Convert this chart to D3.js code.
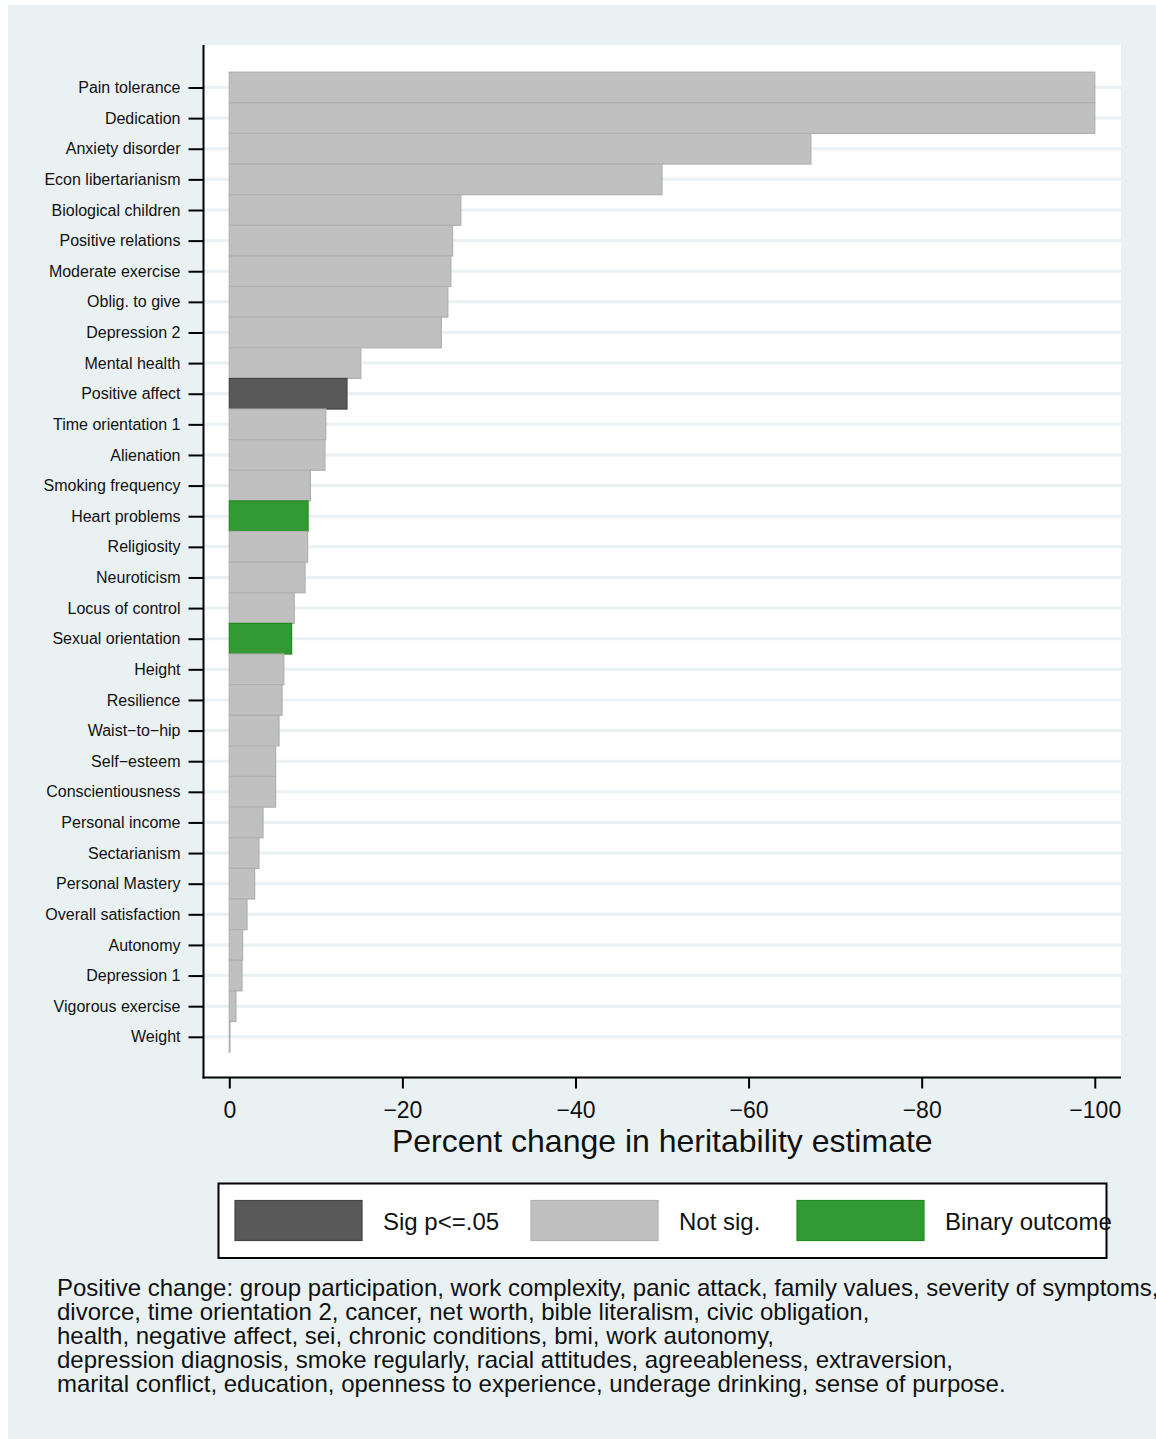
<!DOCTYPE html>
<html>
<head>
<meta charset="utf-8">
<script src="https://cdn.jsdelivr.net/npm/d3@7"></script>
<style>
  html, body { margin: 0; padding: 0; background: #ffffff; }
  svg { display: block; font-family: "Liberation Sans", Arial, Helvetica, sans-serif; }
</style>
</head>
<body>
<svg id="chart" width="1156" height="1439"></svg>
<script>
// Outcomes, ordered from largest to smallest drop in heritability
const categories = [
  "Pain tolerance", "Dedication", "Anxiety disorder", "Econ libertarianism",
  "Biological children", "Positive relations", "Moderate exercise", "Oblig. to give",
  "Depression 2", "Mental health", "Positive affect", "Time orientation 1",
  "Alienation", "Smoking frequency", "Heart problems", "Religiosity",
  "Neuroticism", "Locus of control", "Sexual orientation", "Height",
  "Resilience", "Waist\u2212to\u2212hip", "Self\u2212esteem", "Conscientiousness",
  "Personal income", "Sectarianism", "Personal Mastery", "Overall satisfaction",
  "Autonomy", "Depression 1", "Vigorous exercise", "Weight"
];

// Percent change in the heritability estimate for each outcome
const pctChange = [
  -100, -100, -67.2, -50.0,
  -26.75, -25.8, -25.6, -25.25,
  -24.5, -15.2, -13.6, -11.15,
  -11.05, -9.37, -9.1, -9.05,
  -8.75, -7.5, -7.2, -6.3,
  -6.1, -5.75, -5.35, -5.35,
  -3.9, -3.43, -2.93, -2.05,
  -1.54, -1.47, -0.77, -0.08
];

// sig = significant at p<=.05, ns = not significant, bin = binary outcome
const status = [
  "ns", "ns", "ns", "ns",
  "ns", "ns", "ns", "ns",
  "ns", "ns", "sig", "ns",
  "ns", "ns", "bin", "ns",
  "ns", "ns", "bin", "ns",
  "ns", "ns", "ns", "ns",
  "ns", "ns", "ns", "ns",
  "ns", "ns", "ns", "ns"
];

const xTicks = [0, -20, -40, -60, -80, -100];

const legendKeys = ["sig", "ns", "bin"];
const legendLabels = ["Sig p<=.05", "Not sig.", "Binary outcome"];

const noteLines = [
  "Positive change: group participation, work complexity, panic attack, family values, severity of symptoms,",
  "divorce, time orientation 2, cancer, net worth, bible literalism, civic obligation,",
  "health, negative affect, sei, chronic conditions, bmi, work autonomy,",
  "depression diagnosis, smoke regularly, racial attitudes, agreeableness, extraversion,",
  "marital conflict, education, openness to experience, underage drinking, sense of purpose."
];

const fills = { sig: "#595959", ns: "#c0c0c0", bin: "#339933" };
const strokes = { sig: "#444444", ns: "#b0b0b0", bin: "#1f8a1f" };

const svg = d3.select("#chart");

// Outer light background
svg.append("rect")
  .attr("x", 8).attr("y", 5)
  .attr("width", 1148).attr("height", 1434)
  .attr("fill", "#eaf1f3");

// Plot region
const plot = { left: 203.5, right: 1121, top: 45, bottom: 1077.5 };

svg.append("rect")
  .attr("x", plot.left).attr("y", plot.top)
  .attr("width", plot.right - plot.left).attr("height", plot.bottom - plot.top)
  .attr("fill", "#ffffff");

const x = d3.scaleLinear()
  .domain([2.98, -103.03])
  .range([plot.left, plot.right]);

const y = d3.scalePoint()
  .domain(categories)
  .range([87.5, 1036.8]);

const step = y.step();

// Horizontal gridlines at each outcome
svg.append("g")
  .selectAll("line")
  .data(categories)
  .join("line")
  .attr("x1", plot.left).attr("x2", plot.right)
  .attr("y1", d => y(d)).attr("y2", d => y(d))
  .attr("stroke", "#eaf1f3")
  .attr("stroke-width", 3);

// Bars
svg.append("g")
  .selectAll("rect")
  .data(categories.map((c, i) => ({ c, v: pctChange[i], s: status[i] })))
  .join("rect")
  .attr("x", d => x(0))
  .attr("y", d => y(d.c) - step / 2)
  .attr("width", d => Math.max(0.5, x(d.v) - x(0)))
  .attr("height", step)
  .attr("fill", d => fills[d.s])
  .attr("stroke", d => strokes[d.s])
  .attr("stroke-width", 1.2);

// Y axis
const yAxis = svg.append("g")
  .attr("transform", `translate(${plot.left},0)`)
  .call(d3.axisLeft(y).tickSize(15).tickPadding(8).tickSizeOuter(0));
yAxis.select(".domain").remove();
yAxis.selectAll(".tick line").attr("stroke", "#000").attr("stroke-width", 2);
yAxis.selectAll(".tick text")
  .attr("font-size", 16)
  .attr("font-family", "Liberation Sans, Arial, sans-serif")
  .attr("fill", "#111");

// X axis
const xAxis = svg.append("g")
  .attr("transform", `translate(0,${plot.bottom})`)
  .call(d3.axisBottom(x).tickValues(xTicks).tickSize(11).tickPadding(13).tickSizeOuter(0)
    .tickFormat(d => d === 0 ? "0" : "\u2212" + Math.abs(d)));
xAxis.select(".domain").remove();
xAxis.selectAll(".tick line").attr("stroke", "#000").attr("stroke-width", 2);
xAxis.selectAll(".tick text")
  .attr("font-size", 23)
  .attr("font-family", "Liberation Sans, Arial, sans-serif")
  .attr("fill", "#111");

// Axis lines
svg.append("line")
  .attr("x1", plot.left).attr("x2", plot.left)
  .attr("y1", plot.top).attr("y2", plot.bottom + 1)
  .attr("stroke", "#000").attr("stroke-width", 2);
svg.append("line")
  .attr("x1", plot.left - 1).attr("x2", plot.right)
  .attr("y1", plot.bottom).attr("y2", plot.bottom)
  .attr("stroke", "#000").attr("stroke-width", 2);

// Axis title
svg.append("text")
  .attr("x", (plot.left + plot.right) / 2)
  .attr("y", 1151.5)
  .attr("text-anchor", "middle")
  .attr("font-size", 32)
  .attr("fill", "#111")
  .text("Percent change in heritability estimate");

// Legend
const legend = svg.append("g");
legend.append("rect")
  .attr("x", 218.5).attr("y", 1183.5)
  .attr("width", 888).attr("height", 74.5)
  .attr("fill", "#ffffff")
  .attr("stroke", "#000").attr("stroke-width", 2);

const keyX = [235, 531, 797];
legendKeys.forEach((k, i) => {
  legend.append("rect")
    .attr("x", keyX[i]).attr("y", 1200.5)
    .attr("width", 127).attr("height", 40)
    .attr("fill", fills[k])
    .attr("stroke", strokes[k]).attr("stroke-width", 1.2);
  legend.append("text")
    .attr("x", keyX[i] + 148).attr("y", 1229.5)
    .attr("font-size", 24)
    .attr("fill", "#111")
    .text(legendLabels[i]);
});

// Note below the legend
svg.append("g")
  .selectAll("text")
  .data(noteLines)
  .join("text")
  .attr("x", 57)
  .attr("y", (d, i) => 1296 + i * 24)
  .attr("font-size", 24)
  .attr("fill", "#111")
  .text(d => d);
</script>
</body>
</html>
